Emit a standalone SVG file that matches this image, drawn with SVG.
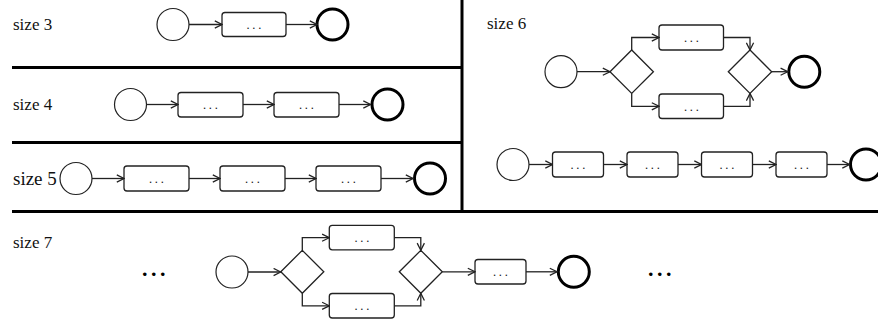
<svg xmlns="http://www.w3.org/2000/svg" width="878" height="322" viewBox="0 0 878 322">
  <style>
    .lbl { font-size: 17px; fill: #111; }
    .start { fill: #fff; stroke: #222; stroke-width: 1.2; }
    .end { fill: #fff; stroke: #000; stroke-width: 3; }
    .task { fill: #fff; stroke: #222; stroke-width: 1.3; }
    .gw { fill: #fff; stroke: #222; stroke-width: 1.3; }
    .dots { font-size: 13px; fill: #222; text-anchor: middle; letter-spacing: 2.2px; }
    .more { font-size: 22px; font-weight: bold; fill: #000; letter-spacing: 3.5px; }
    .flow { fill: none; stroke: #222; stroke-width: 1.3; marker-end: url(#arr); }
    .rule { stroke: #000; stroke-width: 3; fill: none; }
  </style>
  <defs>
    <marker id="arr" viewBox="0 0 10 10" refX="9" refY="5" markerWidth="9" markerHeight="9" markerUnits="userSpaceOnUse" orient="auto">
      <path d="M1,1 L9,5 L1,9" fill="none" stroke="#222" stroke-width="1.4"/>
    </marker>
  </defs>
  <rect width="878" height="322" fill="#fff"/>

  <!-- panel dividers -->
  <g id="dividers">
    <line class="rule" x1="12" y1="67.5" x2="462" y2="67.5"/>
    <line class="rule" x1="12" y1="142.5" x2="462" y2="142.5"/>
    <line class="rule" x1="12" y1="211.5" x2="878" y2="211.5"/>
    <line class="rule" x1="462" y1="0" x2="462" y2="211.5"/>
  </g>

  <!-- panel labels -->
  <g id="labels" font-family="'Liberation Serif', 'DejaVu Serif', serif">
    <text class="lbl" x="13" y="29.5">size 3</text>
    <text class="lbl" x="13" y="109.5">size 4</text>
    <text class="lbl" x="13" y="185" style="font-size:19px">size 5</text>
    <text class="lbl" x="487" y="28.5">size 6</text>
    <text class="lbl" x="13" y="247.5">size 7</text>
    <text class="more" x="142" y="276">...</text>
    <text class="more" x="648" y="276">...</text>
  </g>

  <g id="nodes" font-family="'Liberation Sans', 'DejaVu Sans', sans-serif">
  <!-- size 3 -->
  <g id="s3-start"><circle class="start" cx="173" cy="24.5" r="16"/></g>
  <g id="s3-t1"><rect class="task" x="222" y="12.5" width="64" height="24" rx="3"/><text class="dots" x="255" y="28.5">...</text></g>
  <g id="s3-end"><circle class="end" cx="332.5" cy="24.5" r="15.5"/></g>

  <!-- size 4 -->
  <g id="s4-start"><circle class="start" cx="130.5" cy="104.5" r="16"/></g>
  <g id="s4-t1"><rect class="task" x="178" y="92.5" width="65" height="24.5" rx="3"/><text class="dots" x="211.5" y="109">...</text></g>
  <g id="s4-t2"><rect class="task" x="274" y="92.5" width="65" height="24.5" rx="3"/><text class="dots" x="307.5" y="109">...</text></g>
  <g id="s4-end"><circle class="end" cx="387.5" cy="104.5" r="15.5"/></g>

  <!-- size 5 -->
  <g id="s5-start"><circle class="start" cx="76" cy="178.5" r="16"/></g>
  <g id="s5-t1"><rect class="task" x="124" y="166" width="65" height="25" rx="3"/><text class="dots" x="157.5" y="183">...</text></g>
  <g id="s5-t2"><rect class="task" x="220" y="166" width="65" height="25" rx="3"/><text class="dots" x="253.5" y="183">...</text></g>
  <g id="s5-t3"><rect class="task" x="316" y="166" width="65" height="25" rx="3"/><text class="dots" x="349.5" y="183">...</text></g>
  <g id="s5-end"><circle class="end" cx="430" cy="178.5" r="15.5"/></g>

  <!-- size 6, parallel variant -->
  <g id="s6a-start"><circle class="start" cx="561" cy="71.7" r="16"/></g>
  <g id="s6a-split"><polygon class="gw" points="610,71.7 631.7,50 653.4,71.7 631.7,93.4"/></g>
  <g id="s6a-t1"><rect class="task" x="659" y="25" width="64.5" height="25" rx="3"/><text class="dots" x="692.5" y="42">...</text></g>
  <g id="s6a-t2"><rect class="task" x="659" y="94" width="64.5" height="24.5" rx="3"/><text class="dots" x="692.5" y="110.5">...</text></g>
  <g id="s6a-join"><polygon class="gw" points="728.3,71.7 750,50 771.7,71.7 750,93.4"/></g>
  <g id="s6a-end"><circle class="end" cx="804.3" cy="71.8" r="15.5"/></g>

  <!-- size 6, sequential variant -->
  <g id="s6b-start"><circle class="start" cx="513" cy="164.5" r="16"/></g>
  <g id="s6b-t1"><rect class="task" x="552.5" y="152" width="51" height="25" rx="3"/><text class="dots" x="579" y="169">...</text></g>
  <g id="s6b-t2"><rect class="task" x="627" y="152" width="51" height="25" rx="3"/><text class="dots" x="653.5" y="169">...</text></g>
  <g id="s6b-t3"><rect class="task" x="701.5" y="152" width="51" height="25" rx="3"/><text class="dots" x="728" y="169">...</text></g>
  <g id="s6b-t4"><rect class="task" x="776" y="152" width="51" height="25" rx="3"/><text class="dots" x="802.5" y="169">...</text></g>
  <g id="s6b-end"><circle class="end" cx="866" cy="164.5" r="15.5"/></g>

  <!-- size 7 -->
  <g id="s7-start"><circle class="start" cx="232" cy="272" r="16"/></g>
  <g id="s7-split"><polygon class="gw" points="280.8,271.8 302.3,250.3 323.8,271.8 302.3,293.3"/></g>
  <g id="s7-t1"><rect class="task" x="329.3" y="225.3" width="65" height="24.5" rx="3"/><text class="dots" x="363" y="242">...</text></g>
  <g id="s7-t2"><rect class="task" x="329.3" y="293.5" width="65" height="24.5" rx="3"/><text class="dots" x="363" y="310">...</text></g>
  <g id="s7-join"><polygon class="gw" points="399.3,271.8 420.8,250.3 442.3,271.8 420.8,293.3"/></g>
  <g id="s7-t3"><rect class="task" x="475" y="259.5" width="51" height="24.5" rx="3"/><text class="dots" x="501.5" y="276">...</text></g>
  <g id="s7-end"><circle class="end" cx="573.8" cy="271.8" r="15.5"/></g>
  </g>

  <!-- sequence flows -->
  <g id="connectors">
    <!-- size 3 -->
    <path class="flow" d="M189,24.5 H222"/>
    <path class="flow" d="M286,24.5 H317"/>
    <!-- size 4 -->
    <path class="flow" d="M146.5,104.5 H178"/>
    <path class="flow" d="M243,104.5 H274"/>
    <path class="flow" d="M339,104.5 H370.5"/>
    <!-- size 5 -->
    <path class="flow" d="M92,178.5 H124"/>
    <path class="flow" d="M189,178.5 H220"/>
    <path class="flow" d="M285,178.5 H316"/>
    <path class="flow" d="M381,178.5 H413"/>
    <!-- size 6, parallel -->
    <path class="flow" d="M577,71.7 H610"/>
    <path class="flow" d="M631.7,50 V37.5 H659"/>
    <path class="flow" d="M631.7,93.4 V106.3 H659"/>
    <path class="flow" d="M723.5,37.5 H750 V50"/>
    <path class="flow" d="M723.5,106.3 H750 V93.4"/>
    <path class="flow" d="M771.7,71.7 H787.8"/>
    <!-- size 6, sequential -->
    <path class="flow" d="M529,164.5 H552.5"/>
    <path class="flow" d="M603.5,164.5 H627"/>
    <path class="flow" d="M678,164.5 H701.5"/>
    <path class="flow" d="M752.5,164.5 H776"/>
    <path class="flow" d="M827,164.5 H849.5"/>
    <!-- size 7 -->
    <path class="flow" d="M248,272 H280.8"/>
    <path class="flow" d="M302.3,250.3 V237.7 H329.3"/>
    <path class="flow" d="M302.3,293.3 V305.8 H329.3"/>
    <path class="flow" d="M394.3,237.7 H420.8 V250.3"/>
    <path class="flow" d="M394.3,305.8 H420.8 V293.3"/>
    <path class="flow" d="M442.3,271.8 H475"/>
    <path class="flow" d="M526,271.8 H557"/>
  </g>
</svg>
